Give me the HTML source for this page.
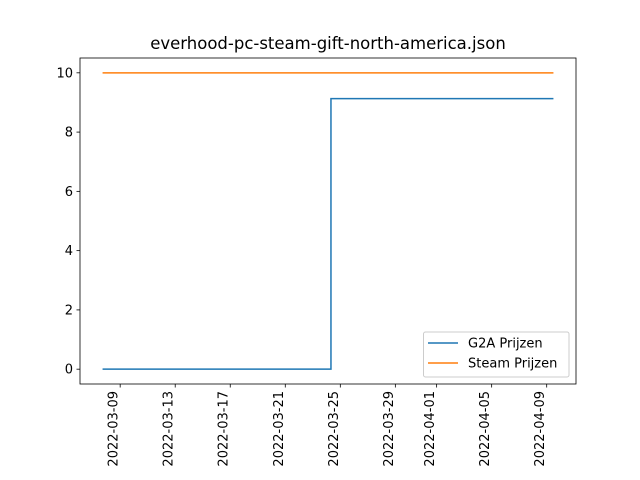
<!DOCTYPE html>
<html><head><meta charset="utf-8"><style>
body{margin:0;background:#fff;}
svg{display:block;font-family:"DejaVu Sans","Liberation Sans",sans-serif;}
</style></head><body>
<svg id="c" width="640" height="480" xmlns="http://www.w3.org/2000/svg">
<text x="328" y="49" text-anchor="middle" font-size="16.5">everhood-pc-steam-gift-north-america.json</text>
<g id="plot"></g>
</svg>
<script>
// days since 2022-03-00 (April 9 = day 40)
const g2aDays = [7.72, 24.32, 24.32, 40.49];
const g2aValues = [0, 0, 9.13, 9.13];
const steamDays = [7.72, 40.49];
const steamValues = [10, 10];
const xTickDays = [9, 13, 17, 21, 25, 29, 32, 36, 40];
const xTickLabels = ["2022-03-09","2022-03-13","2022-03-17","2022-03-21","2022-03-25","2022-03-29","2022-04-01","2022-04-05","2022-04-09"];
const yTicks = [0, 2, 4, 6, 8, 10];

const L=80,R=576,T=58,B=384;
const xMin=6.08,xMax=42.13,yMin=-0.5,yMax=10.5;
const xs=d=>L+(d-xMin)/(xMax-xMin)*(R-L);
const ys=v=>B-(v-yMin)/(yMax-yMin)*(B-T);
const NS="http://www.w3.org/2000/svg";
const g=document.getElementById('plot');
function mk(t,a){const e=document.createElementNS(NS,t);for(const k in a)e.setAttribute(k,a[k]);g.appendChild(e);return e;}

yTicks.forEach(v=>{
  const y=ys(v);
  const t=mk('line',{x1:L-3.5,x2:L,y1:y,y2:y,stroke:'#000','stroke-width':0.8});
  
  
  const tx=mk('text',{x:L-7,y:y+4.5,'text-anchor':'end','font-size':13});
  tx.textContent=String(v);
  
  
});
xTickDays.forEach((d,i)=>{
  const x=xs(d);
  const t=mk('line',{x1:x,x2:x,y1:B,y2:B+3.5,stroke:'#000','stroke-width':0.8});
  
  
  const tx=mk('text',{x:0,y:0,'text-anchor':'end','font-size':13,transform:`translate(${x-2.5},${B+7}) rotate(-90)`});
  tx.textContent=xTickLabels[i];
  
  
});
function series(days,vals,color,name){
  const p=mk('polyline',{points:days.map((d,i)=>xs(d)+','+ys(vals[i])).join(' '),fill:'none',stroke:color,'stroke-width':1.5});
  
  
}
series(g2aDays,g2aValues,'#1f77b4','g2a-line');
series(steamDays,steamValues,'#ff7f0e','steam-line');
const fr=mk('rect',{x:L,y:T,width:R-L,height:B-T,fill:'none',stroke:'#000','stroke-width':0.8});



const lg=mk('rect',{x:423.5,y:332,width:145.5,height:45,rx:2,fill:'#fff','fill-opacity':0.8,stroke:'#ccc','stroke-width':1});


[['G2A Prijzen','#1f77b4',343],['Steam Prijzen','#ff7f0e',363]].forEach(([n,c,y])=>{
  const l=mk('line',{x1:428,x2:458,y1:y,y2:y,stroke:c,'stroke-width':1.5});
  
  
  const t=mk('text',{x:468,y:y+4.5,'font-size':13});
  t.textContent=n;
  
  
});
</script>
</body></html>
